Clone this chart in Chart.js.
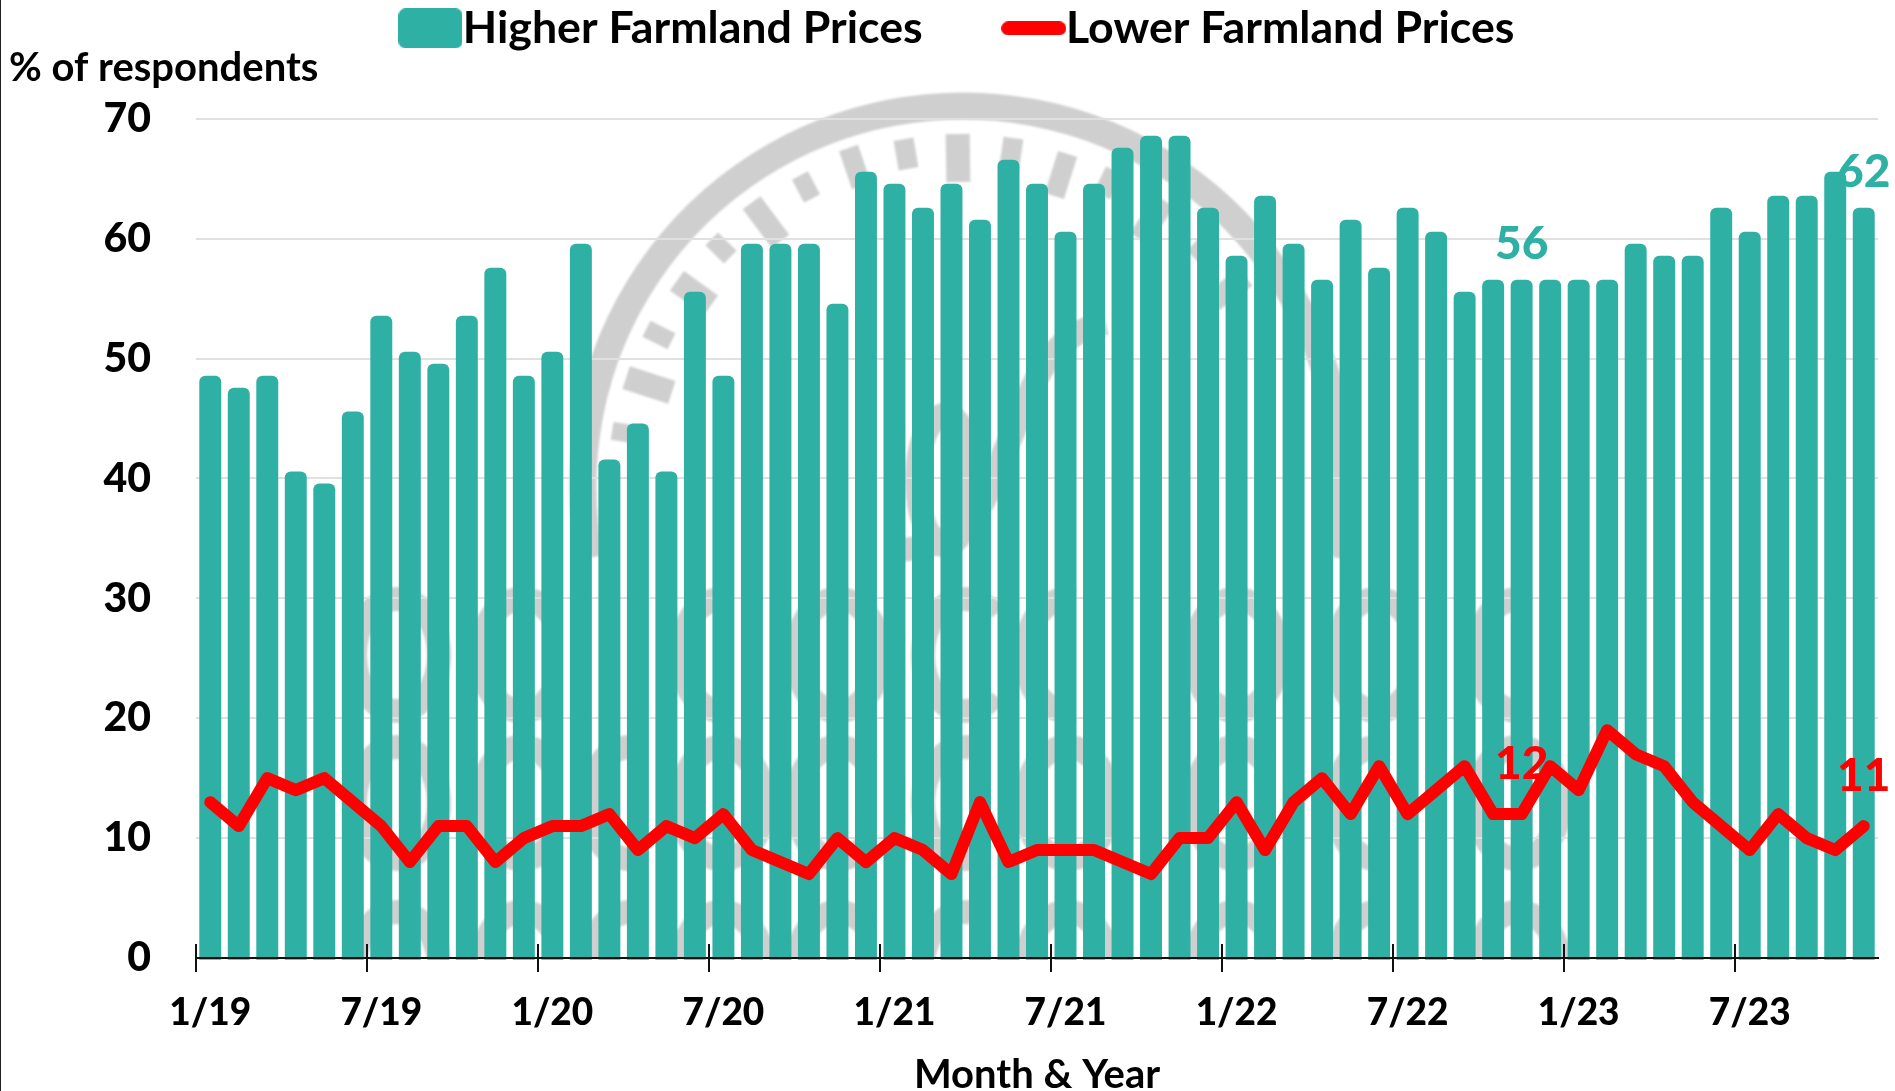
<!DOCTYPE html>
<html><head><meta charset="utf-8">
<style>html,body{margin:0;padding:0;background:#fff}canvas{display:block}#edge{position:fixed;left:0;top:0;width:1px;height:1091px;background:#222}</style>
<script src="https://cdn.jsdelivr.net/npm/chart.js@4"></script>
</head><body><div id="edge"></div><canvas id="c" width="1895" height="1091"></canvas>
<script>
const months = ["1/19","2/19","3/19","4/19","5/19","6/19","7/19","8/19","9/19","10/19","11/19","12/19",
"1/20","2/20","3/20","4/20","5/20","6/20","7/20","8/20","9/20","10/20","11/20","12/20",
"1/21","2/21","3/21","4/21","5/21","6/21","7/21","8/21","9/21","10/21","11/21","12/21",
"1/22","2/22","3/22","4/22","5/22","6/22","7/22","8/22","9/22","10/22","11/22","12/22",
"1/23","2/23","3/23","4/23","5/23","6/23","7/23","8/23","9/23","10/23","11/23"];
const higherPrices = [48,47,48,40,39,45, 53,50,49,53,57,48, 50,59,41,44,40,55, 48,59,59,59,54,65,
64,62,64,61,66,64, 60,64,67,68,68,62, 58,63,59,56,61,57, 62,60,55,56,56,56, 56,56,59,58,58,62, 60,63,63,65,62];
const lowerPrices = [13,11,15,14,15,13, 11,8,11,11,8,10, 11,11,12,9,11,10, 12,9,8,7,10,8,
10,9,7,13,8,9, 9,9,8,7,10,10, 13,9,13,15,12,16, 12,14,16,12,12,16, 14,19,17,16,13,11, 9,12,10,9,11];
const labelledIndexes = [46,58];
const TEAL='#2EB0A4', RED='#FF0000', GREY='#CFCFCF', FONT='Lato, sans-serif';

function swatch(w,h,r,color){
  const c=document.createElement('canvas');c.width=w;c.height=h;
  const g=c.getContext('2d');g.fillStyle=color;g.beginPath();g.roundRect(0,0,w,h,r);g.fill();return c;
}
const swatches=[swatch(64,40,7,TEAL),swatch(65,14,7,RED)];

const legendSpacer={id:'legendSpacer',beforeInit(chart){
  const legend=chart.legend,fit=legend.fit;
  legend.fit=function(){fit.call(this);this.height+=58;};
}};

// the reference draws its bars a little over half a unit above the labelled whole-number value
const barOverhang={id:'barOverhang',afterDatasetsUpdate(chart){
  const y=chart.scales.y,lift=y.getPixelForValue(0)-y.getPixelForValue(0.57);
  chart.getDatasetMeta(0).data.forEach(el=>{el.y-=lift;});
}};

const watermark={id:'watermark',beforeDraw(chart){
  const g=chart.ctx,cx=963,cy=486;
  g.save();g.beginPath();g.rect(0,0,1895,958);g.clip();
  g.filter='blur(1px)';
  g.strokeStyle=GREY;g.fillStyle=GREY;g.lineCap='butt';
  g.lineWidth=27;g.beginPath();g.arc(cx,cy,380,Math.PI-0.19,2*Math.PI+0.19);g.stroke();
  const dashes=[[958,158,24,48],[906,154,20,30],[855,167,20,40],[806,187,18,26],[766,222,22,48],[721,248,18,26],[694,293,24,42],[659,335,18,28],[649,385,24,48],[626,433,18,28],
                [1011,155,20,34],[1061,175,20,44],[1108,183,18,28],[1152,220,22,46],[1203,247,18,28],[1228,290,22,44]];
  dashes.forEach(([x,y,w,h])=>{g.save();g.translate(x,y);g.rotate(Math.atan2(y-cy,x-cx)+Math.PI/2);g.fillRect(-w/2,-h/2,w,h);g.restore();});
  g.lineWidth=24;
  g.beginPath();g.moveTo(1106,323);g.bezierCurveTo(1040,335,1030,400,1005,450);g.bezierCurveTo(985,500,975,545,900,550);g.stroke();
  g.beginPath();g.ellipse(945,480,28,65,0,0,2*Math.PI);g.stroke();
  const rows=[[655,[397,522,722,838,965,1067,1236,1377,1518]],[803,[397,522,630,722,838,965,1067,1236,1377,1518]],[968,[397,522,630,722,838,965,1067,1236,1377,1518]]];
  g.lineWidth=24;
  rows.forEach(([y,xs])=>xs.forEach((x,i)=>{
    const open=[0,0.5,0.9][i%3]*Math.PI/2;
    g.beginPath();g.ellipse(x,y,42,56,0,open,2*Math.PI-open);g.stroke();
  }));
  g.restore();
}};

const decorations={id:'decorations',afterDatasetsDraw(chart){
  const g=chart.ctx,x=chart.scales.x,y=chart.scales.y,step=x.getPixelForValue(1)-x.getPixelForValue(0);
  g.save();g.strokeStyle='#111';g.lineWidth=2;
  months.forEach((m,i)=>{ if(i%6===0){const px=Math.round(x.getPixelForValue(i)-step/2);
    g.beginPath();g.moveTo(px,y.bottom-14);g.lineTo(px,y.bottom+14);g.stroke();}});
  g.textAlign='center';g.textBaseline='middle';g.font='900 46px '+FONT;
  const bars=chart.getDatasetMeta(0).data,line=chart.getDatasetMeta(1).data;
  labelledIndexes.forEach(i=>{
    g.fillStyle=TEAL;g.fillText(String(higherPrices[i]),bars[i].x,bars[i].y-36);
    g.fillStyle=RED;g.fillText(String(lowerPrices[i]),line[i].x,line[i].y-50);
  });
  g.textAlign='left';g.fillStyle='#000';g.font='bold 40px '+FONT;g.fillText('% of respondents',9,68);
  g.restore();
}};

new Chart(document.getElementById('c'),{
  type:'bar',
  data:{labels:months,datasets:[
    {type:'bar',label:'Higher Farmland Prices',data:higherPrices,backgroundColor:TEAL,barPercentage:0.77,categoryPercentage:1,borderRadius:6,base:-0.15,clip:false,order:2},
    {type:'line',label:'Lower Farmland Prices',data:lowerPrices,borderColor:RED,borderWidth:12,pointRadius:0,tension:0,borderCapStyle:'round',borderJoinStyle:'round',order:1}
  ]},
  plugins:[legendSpacer,barOverhang,watermark,decorations],
  options:{
    responsive:false,animation:false,
    layout:{autoPadding:false,padding:{left:57,right:17,top:-95,bottom:0}},
    plugins:{
      tooltip:{enabled:false},
      legend:{display:true,position:'top',labels:{
        color:'#000',font:{family:FONT,size:44.7,weight:'bold'},usePointStyle:true,pointStyleWidth:20,padding:101,
        generateLabels:chart=>chart.data.datasets.map((d,i)=>({text:d.label,datasetIndex:i,pointStyle:swatches[i],fontColor:'#000',lineWidth:0}))
      }}
    },
    scales:{
      x:{
        afterFit(s){s.height=133;},
        grid:{display:false},
        border:{display:true,color:'#111',width:2,z:1},
        ticks:{autoSkip:false,maxRotation:0,minRotation:0,color:'#000',padding:25,font:{family:FONT,size:37,weight:900},
          callback(v,i){return i%6===0?months[i]:'';}},
        title:{display:true,text:'Month & Year',color:'#000',font:{family:FONT,size:40,weight:'bold',lineHeight:1},padding:{top:0,bottom:-4}}
      },
      y:{
        min:0,max:70,
        afterFit(s){s.width=139;},
        grid:{color:'#E0E0E0',lineWidth:2,drawTicks:false,tickLength:0},
        border:{display:false},
        ticks:{stepSize:10,color:'#000',padding:45,font:{family:FONT,size:41,weight:900}}
      }
    }
  }
});
</script></body></html>
